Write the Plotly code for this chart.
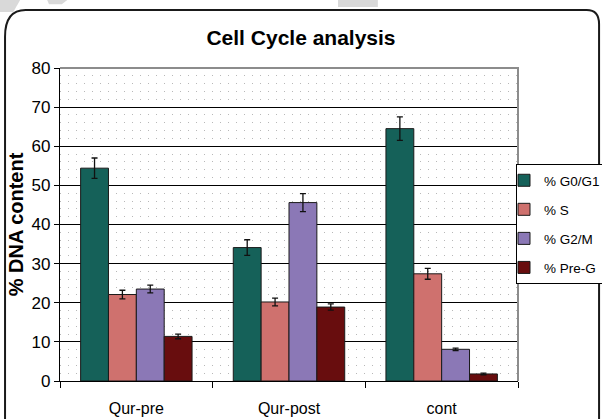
import plotly.graph_objects as go

categories = ["Qur-pre", "Qur-post", "cont"]
series_names = ["% G0/G1", "% S", "% G2/M", "% Pre-G"]
g0g1 = [54.4, 34.1, 64.5]
s_phase = [22.1, 20.2, 27.4]
g2m = [23.5, 45.6, 8.1]
preg = [11.4, 18.9, 1.8]
g0g1_err = [2.6, 2.0, 3.0]
s_err = [1.1, 1.0, 1.4]
g2m_err = [1.0, 2.3, 0.3]
preg_err = [0.6, 0.8, 0.2]
y_ticks = [0, 10, 20, 30, 40, 50, 60, 70, 80]

colors = ["#156159", "#cf716e", "#8b78b6", "#680d0e"]
values = [g0g1, s_phase, g2m, preg]
errors = [g0g1_err, s_err, g2m_err, preg_err]

FONT = "Liberation Sans, Arial"

fig = go.Figure()
for name, vals, errs, col in zip(series_names, values, errors, colors):
    fig.add_trace(go.Bar(
        x=categories, y=vals, name=name, legendgroup=name,
        marker=dict(color=col, line=dict(color="#1a1a1a", width=1)),
        error_y=dict(type="data", array=errs, visible=True, color="#111111",
                     thickness=1.3, width=3),
    ))

fig.update_layout(
    width=602, height=419,
    margin=dict(l=60, r=84, t=68, b=38, autoexpand=False),
    paper_bgcolor="white", plot_bgcolor="white",
    barmode="group", bargap=0.27, bargroupgap=0,
    title=dict(text="<b>Cell Cycle analysis</b>", x=0.5, xanchor="center",
               y=1 - 38 / 419, yanchor="middle",
               font=dict(family=FONT, size=21, color="black")),
    legend=dict(xref="container", yref="container",
                x=516 / 602, y=1 - 164 / 419, xanchor="left", yanchor="top",
                bordercolor="black", borderwidth=1, bgcolor="white",
                font=dict(family=FONT, size=13.5, color="black"),
                traceorder="grouped", tracegroupgap=8.5,
                itemwidth=30, indentation=-13),
    showlegend=True,
    font=dict(family=FONT, color="black"),
)

fig.update_yaxes(
    range=[0, 80], tickvals=y_ticks, showgrid=True, gridcolor="black",
    gridwidth=1.3, showline=True, linecolor="black", linewidth=1.3,
    ticks="outside", ticklen=5, tickcolor="black", automargin=False,
    tickfont=dict(family=FONT, size=17, color="black"),
    title=dict(text="<b>% DNA content</b>",
               font=dict(family=FONT, size=20, color="black"),
               standoff=2),
    minor=dict(dtick=2, showgrid=True, gridcolor="#b8b8b8", gridwidth=1,
               griddash="1px,7px"),
    zeroline=False,
)
fig.update_xaxes(
    showline=True, linecolor="black", linewidth=1.3, automargin=False,
    ticks="outside", ticklen=6, tickcolor="black", tickson="boundaries",
    ticklabelstandoff=13,
    tickfont=dict(family=FONT, size=16, color="black"),
    showgrid=False,
)

# gray top/right plot border
fig.add_shape(type="path", xref="paper", yref="paper",
              path="M 0,1 L 1,1 L 1,0", line=dict(color="#8c8c8c", width=2),
              layer="above")

# light gray watermark fragments at the top
for p in ["M -0.131,1.217 L -0.087,1.217 L -0.102,1.179 L -0.131,1.179 Z",
          "M -0.028,1.217 L 0.016,1.217 L 0.004,1.204 L -0.024,1.204 Z",
          "M 0.607,1.217 L 0.694,1.217 L 0.694,1.195 L 0.607,1.195 Z"]:
    fig.add_shape(type="path", xref="paper", yref="paper", path=p,
                  fillcolor="#d9d9d9", line=dict(width=0), layer="below")

# outer rounded frame
fig.add_shape(type="path", xref="paper", yref="paper",
              path=("M -0.120,-0.16 L -0.120,1.100 Q -0.120,1.185 -0.075,1.185 "
                    "L 1.150,1.185 Q 1.177,1.185 1.177,1.14 L 1.177,-0.16"),
              line=dict(color="#1a1a1a", width=2))

fig.write_html("out.html",
               config={"displayModeBar": False},
               post_script="document.body.style.margin='0';"
                           "document.body.style.overflow='hidden';")
